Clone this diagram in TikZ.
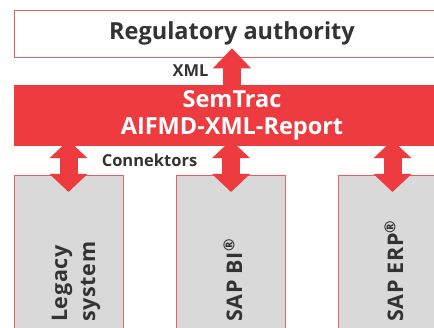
\documentclass[tikz,border=0pt]{standalone}
\usepackage{fontspec}
\setmainfont{Open Sans}
\usetikzlibrary{positioning, arrows.meta}
\definecolor{semred}{RGB}{238,59,63}
\definecolor{boxline}{RGB}{232,96,98}
\definecolor{sysgray}{RGB}{217,217,217}
\definecolor{txtdark}{RGB}{51,51,51}

\begin{document}
\begin{tikzpicture}[x=1pt, y=-1pt,
	sysbox/.style={rectangle, draw=boxline, fill=sysgray, line width=0.7pt, minimum width=109pt, minimum height=170pt, anchor=north},
	systxt/.style={rotate=90, anchor=base west, inner sep=0pt, text=txtdark, font=\fontsize{21.5}{28}\selectfont\bfseries\addfontfeatures{LetterSpace=3}, align=left},
	tag/.style={anchor=base, inner sep=0pt, text=txtdark, font=\fontsize{16.5}{18}\selectfont\bfseries},
	flow/.style={semred, line width=18pt, -{Triangle[length=20pt, width=37pt]}},
	dflow/.style={semred, line width=18pt, {Triangle[length=18pt, width=37pt]}-{Triangle[length=18pt, width=37pt]}}]
		\clip (0,0) rectangle (434,328);
		\useasboundingbox (0,0) rectangle (434,328);
		\node[rectangle, draw=boxline, line width=0.6pt, fill=white, minimum width=436pt, minimum height=47pt, text=txtdark, font=\fontsize{23.5}{25}\selectfont\bfseries] (auth) at (232,33.5) {Regulatory authority};
		\node[rectangle, fill=semred, minimum width=436pt, minimum height=61pt, text=white, align=center, font=\fontsize{23.5}{27}\selectfont\bfseries] (band) at (232,115.5) {SemTrac\\AIFMD-XML-Report};
		\node[sysbox] (legacy) at (68.5,175) {}; \node[sysbox] (sapbi) at (231,175) {}; \node[sysbox] (saperp) at (392.5,175) {};
		\node[systxt] (legacytxt) at (95,322) {Legacy\\system};
		\node[systxt] (sapbitxt) at (242,322) {SAP BI\textsuperscript{\textregistered}};
		\node[systxt] (saperptxt) at (403,322) {SAP ERP\textsuperscript{\textregistered}};
		% arrows between the layers
		\draw[flow] (band.north -| auth.center) -- ([yshift=9pt]auth.south);
		\foreach \sys in {legacy, sapbi, saperp}
			\draw[dflow] ([yshift=6pt]band.south -| \sys.north) -- ([yshift=-17pt]\sys.north);
		\node[tag] (xml) at (190.5,77) {XML};
		\node[tag] (conn) at (149.5,167) {Connektors};
	\end{tikzpicture}
\end{document}
